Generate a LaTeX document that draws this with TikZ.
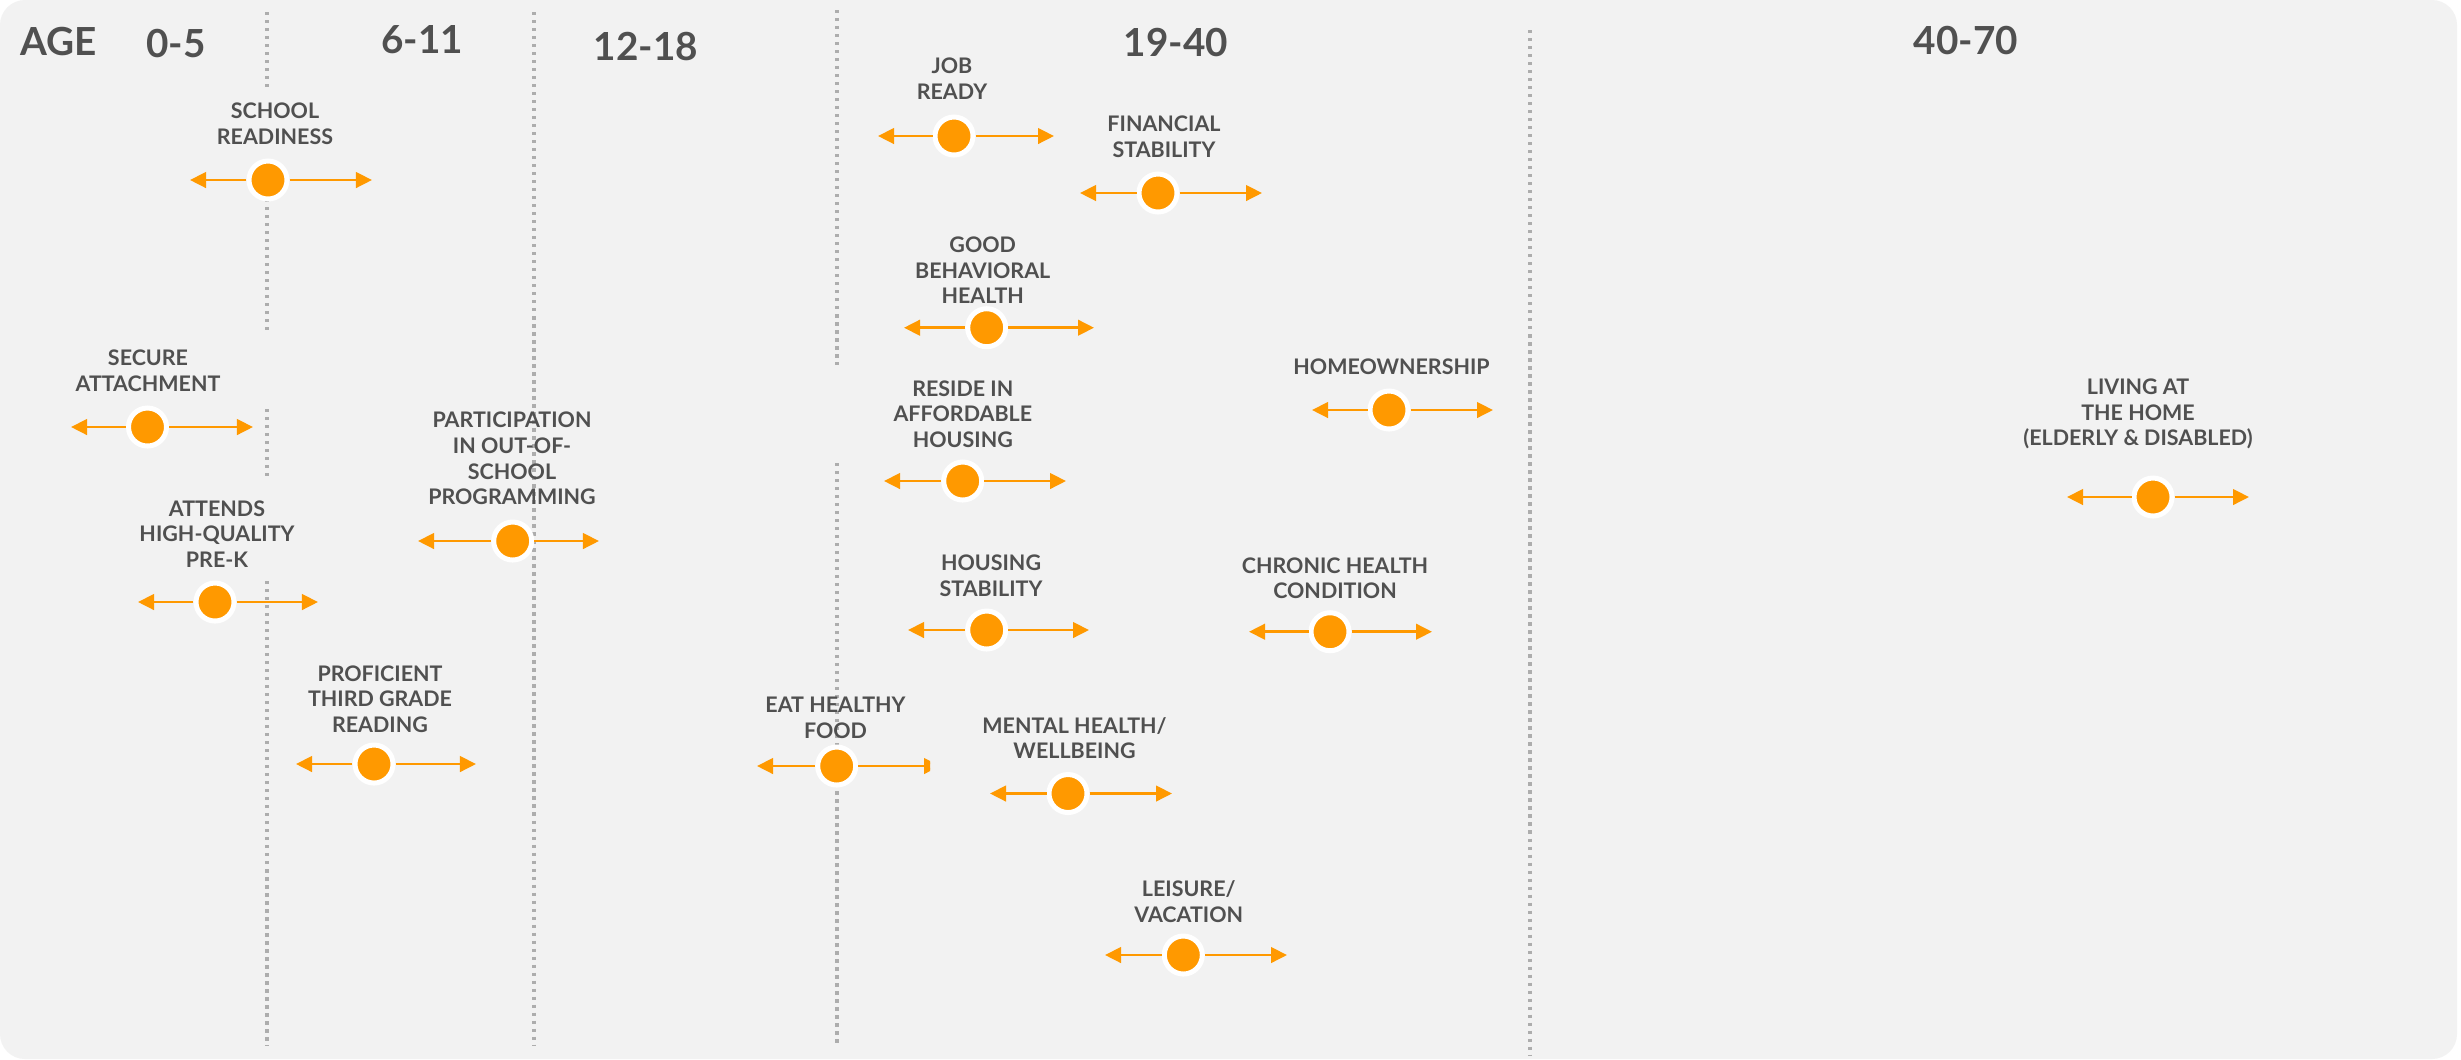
\documentclass[tikz,border=0pt]{standalone}
\usepackage{fontspec}
\setmainfont{Lato}
\usepackage{xcolor}
\usetikzlibrary{arrows.meta}

\definecolor{bggray}{HTML}{F2F2F2}
\definecolor{lngray}{HTML}{ADADAD}
\definecolor{txtgray}{HTML}{505050}
\definecolor{dotorange}{HTML}{FF9900}

\begin{document}
\begin{tikzpicture}[x=0.01cm,y=-0.01cm,
  guide/.style={draw=lngray,line width=0.034cm,dash pattern=on 0.033cm off 0.047cm},
  dot/.style={circle,fill=dotorange,draw=white,line width=0.05cm,minimum size=0.38cm,inner sep=0pt},
  arr/.style={color=dotorange,line width=0.027cm,-{Triangle[length=0.16cm,width=0.155cm]}},
  lbl/.style={align=center,inner sep=0pt,text=txtgray,font=\bfseries\fontsize{6.1}{7.3}\selectfont},
  hdr/.style={inner sep=0pt,text=txtgray,font=\bfseries\fontsize{11}{13}\selectfont}]

  \path[use as bounding box,fill=white] (0,0) rectangle (2461,1059);
  \fill[bggray,rounded corners=0.25cm] (0,0) rectangle (2457,1059);

  % age dividers
  \draw[guide] (267,12) -- (267,88);
  \draw[guide] (267,159) -- (267,334);
  \draw[guide] (267,409) -- (267,480);
  \draw[guide] (267,581) -- (267,1046);
  \draw[guide] (534,12) -- (534,1046);
  \draw[guide] (837,10) -- (837,365);
  \draw[guide] (837,463) -- (837,1044);
  \draw[guide] (1530,30) -- (1530,1056);

  % header
  \node[hdr] (age) at (59,41.5) {AGE};
  \node[hdr] (a1) at (176,43.5) {0-5};
  \node[hdr] (a2) at (422,40) {6-11};
  \node[hdr] (a3) at (646,46.5) {12-18};
  \node[hdr] (a4) at (1176,42) {19-40};
  \node[hdr] (a5) at (1966,40) {40-70};

  % milestones
  \node[dot] (sr) at (268,180) {};
  \node[lbl] (sr-t) at (275,123.5) {SCHOOL\\READINESS};
  \coordinate (sr-l) at (190,180);
  \coordinate (sr-r) at (372,180);
  \draw[arr] (sr) -- (sr-l);
  \draw[arr] (sr) -- (sr-r);

  \node[dot] (sa) at (147.5,427) {};
  \node[lbl] (sa-t) at (148,371) {SECURE\\ATTACHMENT};
  \coordinate (sa-l) at (71,427);
  \coordinate (sa-r) at (253,427);
  \draw[arr] (sa) -- (sa-l);
  \draw[arr] (sa) -- (sa-r);

  \node[dot] (pk) at (215,602) {};
  \node[lbl] (pk-t) at (217,534) {ATTENDS\\HIGH-QUALITY\\PRE-K};
  \coordinate (pk-l) at (138,602);
  \coordinate (pk-r) at (318,602);
  \draw[arr] (pk) -- (pk-l);
  \draw[arr] (pk) -- (pk-r);

  \node[dot] (os) at (512.7,541) {};
  \node[lbl] (os-t) at (512,458.5) {PARTICIPATION\\IN OUT-OF-\\SCHOOL\\PROGRAMMING};
  \coordinate (os-l) at (418,541);
  \coordinate (os-r) at (599,541);
  \draw[arr] (os) -- (os-l);
  \draw[arr] (os) -- (os-r);

  \node[dot] (rd) at (374,764) {};
  \node[lbl] (rd-t) at (380,699) {PROFICIENT\\THIRD GRADE\\READING};
  \coordinate (rd-l) at (296,764);
  \coordinate (rd-r) at (476,764);
  \draw[arr] (rd) -- (rd-l);
  \draw[arr] (rd) -- (rd-r);

  \node[dot] (hf) at (836.7,766) {};
  \node[lbl] (hf-t) at (835.5,718) {EAT HEALTHY\\FOOD};
  \coordinate (hf-l) at (757,766);
  \coordinate (hf-r) at (940,766);
  \draw[arr] (hf) -- (hf-l);
  \begin{scope}
    \clip (850,740) rectangle (930,790);
    \draw[arr] (hf) -- (hf-r);
  \end{scope}

  \node[dot] (jr) at (954,136) {};
  \node[lbl] (jr-t) at (952,78.7) {JOB\\READY};
  \coordinate (jr-l) at (878,136);
  \coordinate (jr-r) at (1054,136);
  \draw[arr] (jr) -- (jr-l);
  \draw[arr] (jr) -- (jr-r);

  \node[dot] (fs) at (1158,193) {};
  \node[lbl] (fs-t) at (1164,137) {FINANCIAL\\STABILITY};
  \coordinate (fs-l) at (1080,193);
  \coordinate (fs-r) at (1262,193);
  \draw[arr] (fs) -- (fs-l);
  \draw[arr] (fs) -- (fs-r);

  \node[dot] (bh) at (986.7,327.7) {};
  \node[lbl] (bh-t) at (982.7,270.3) {GOOD\\BEHAVIORAL\\HEALTH};
  \coordinate (bh-l) at (904,327.7);
  \coordinate (bh-r) at (1094,327.7);
  \draw[arr] (bh) -- (bh-l);
  \draw[arr] (bh) -- (bh-r);

  \node[dot] (ah) at (962.7,481) {};
  \node[lbl] (ah-t) at (962.8,414) {RESIDE IN\\AFFORDABLE\\HOUSING};
  \coordinate (ah-l) at (884,481);
  \coordinate (ah-r) at (1066,481);
  \draw[arr] (ah) -- (ah-l);
  \draw[arr] (ah) -- (ah-r);

  \node[dot] (hs) at (986.7,630) {};
  \node[lbl] (hs-t) at (991,576) {HOUSING\\STABILITY};
  \coordinate (hs-l) at (908,630);
  \coordinate (hs-r) at (1089,630);
  \draw[arr] (hs) -- (hs-l);
  \draw[arr] (hs) -- (hs-r);

  \node[dot] (mh) at (1068,793.5) {};
  \node[lbl] (mh-t) at (1074.5,738) {MENTAL HEALTH/\\WELLBEING};
  \coordinate (mh-l) at (990,793.5);
  \coordinate (mh-r) at (1172,793.5);
  \draw[arr] (mh) -- (mh-l);
  \draw[arr] (mh) -- (mh-r);

  \node[dot] (lv) at (1183.3,955) {};
  \node[lbl] (lv-t) at (1188.7,901.7) {LEISURE/\\VACATION};
  \coordinate (lv-l) at (1105,955);
  \coordinate (lv-r) at (1287,955);
  \draw[arr] (lv) -- (lv-l);
  \draw[arr] (lv) -- (lv-r);

  \node[dot] (ch) at (1330,631.7) {};
  \node[lbl] (ch-t) at (1335,578.3) {CHRONIC HEALTH\\CONDITION};
  \coordinate (ch-l) at (1249,631.7);
  \coordinate (ch-r) at (1432,631.7);
  \draw[arr] (ch) -- (ch-l);
  \draw[arr] (ch) -- (ch-r);

  \node[dot] (ho) at (1389,410) {};
  \node[lbl] (ho-t) at (1391.5,366.5) {HOMEOWNERSHIP};
  \coordinate (ho-l) at (1312,410);
  \coordinate (ho-r) at (1493,410);
  \draw[arr] (ho) -- (ho-l);
  \draw[arr] (ho) -- (ho-r);

  \node[dot] (lh) at (2153,497) {};
  \node[lbl] (lh-t) at (2138,414) {LIVING AT\\THE HOME\\(ELDERLY \& DISABLED)};
  \coordinate (lh-l) at (2067,497);
  \coordinate (lh-r) at (2249,497);
  \draw[arr] (lh) -- (lh-l);
  \draw[arr] (lh) -- (lh-r);
\end{tikzpicture}
\end{document}
